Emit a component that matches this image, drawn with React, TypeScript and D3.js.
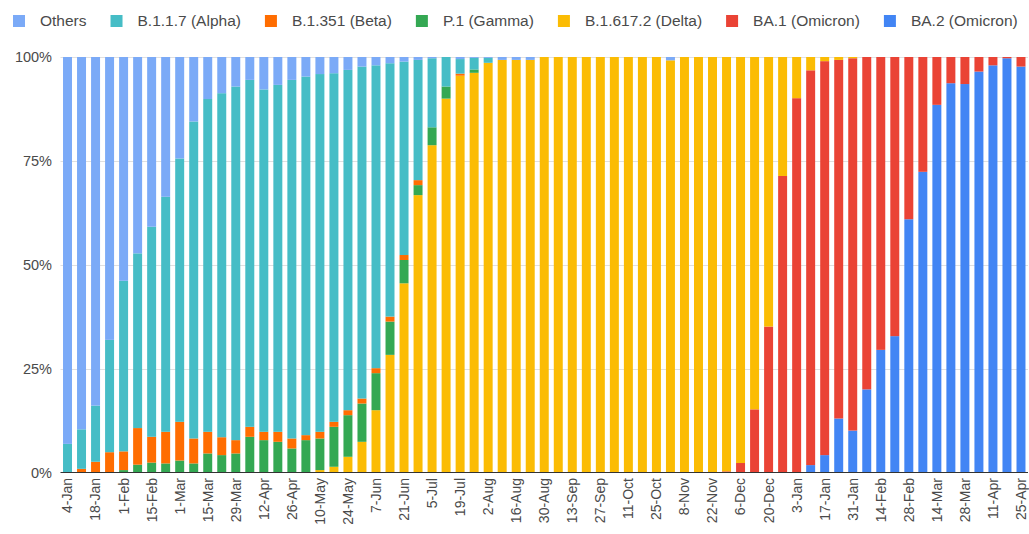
import React, { useEffect, useRef } from "react";
import * as d3 from "d3";

const weeks: string[] = [
  "4-Jan", "11-Jan", "18-Jan", "25-Jan", "1-Feb", "8-Feb", "15-Feb", "22-Feb",
  "1-Mar", "8-Mar", "15-Mar", "22-Mar", "29-Mar", "5-Apr", "12-Apr", "19-Apr",
  "26-Apr", "3-May", "10-May", "17-May", "24-May", "31-May", "7-Jun", "14-Jun",
  "21-Jun", "28-Jun", "5-Jul", "12-Jul", "19-Jul", "26-Jul", "2-Aug", "9-Aug",
  "16-Aug", "23-Aug", "30-Aug", "6-Sep", "13-Sep", "20-Sep", "27-Sep", "4-Oct",
  "11-Oct", "18-Oct", "25-Oct", "1-Nov", "8-Nov", "15-Nov", "22-Nov", "29-Nov",
  "6-Dec", "13-Dec", "20-Dec", "27-Dec", "3-Jan", "10-Jan", "17-Jan", "24-Jan",
  "31-Jan", "7-Feb", "14-Feb", "21-Feb", "28-Feb", "7-Mar", "14-Mar", "21-Mar",
  "28-Mar", "4-Apr", "11-Apr", "18-Apr", "25-Apr",
];

// shares in percent per week
const others: number[] = [
  93, 89.5, 83.8, 68, 53.8, 47.2, 40.8, 33.6, 24.4, 15.5, 10.1, 8.7, 7.1, 5.5, 7.8, 6.7,
  5.5, 4.7, 4.1, 3.9, 3.1, 2.3, 2, 1.5, 1.1, 0.7, 0.3, 0, 0.5, 0.2, 0.2, 0.7,
  0.7, 0.7, 0, 0, 0, 0, 0, 0, 0, 0, 0, 0.8, 0, 0, 0, 0,
  0, 0, 0, 0, 0, 0, 0, 0, 0, 0, 0, 0, 0, 0, 0, 0,
  0, 0, 0, 0, 0,
];
const alpha: number[] = [
  7, 9.5, 13.5, 27, 41, 42, 50.5, 56.5, 63.3, 76.2, 80, 82.7, 85, 83.4, 82.3, 83.4,
  86.2, 86.2, 86, 83.8, 81.8, 79.8, 72.8, 60.9, 46.5, 28.9, 16.6, 7.1, 3.5, 2.8, 1.2, 0,
  0, 0, 0, 0, 0, 0, 0, 0, 0, 0, 0, 0, 0, 0, 0, 0,
  0, 0, 0, 0, 0, 0, 0, 0, 0, 0, 0, 0, 0, 0, 0, 0,
  0, 0, 0, 0, 0,
];
const beta: number[] = [
  0, 1, 2.7, 5, 4.5, 8.8, 6.2, 7.6, 9.3, 6, 5.2, 4.3, 3.2, 2.4, 2, 2.4,
  2.4, 1.2, 1.6, 1.2, 1.2, 1.2, 1.2, 1.2, 1.2, 1.2, 0, 0, 0.5, 0, 0, 0,
  0, 0, 0, 0, 0, 0, 0, 0, 0, 0, 0, 0, 0, 0, 0, 0,
  0, 0, 0, 0, 0, 0, 0, 0, 0, 0, 0, 0, 0, 0, 0, 0,
  0, 0, 0, 0, 0,
];
const gamma: number[] = [
  0, 0, 0, 0, 0.7, 2, 2.5, 2.3, 3, 2.3, 4.7, 4.3, 4.7, 8.7, 7.9, 7.5,
  5.9, 7.9, 7.6, 9.6, 10, 9.2, 8.9, 8, 5.6, 2.4, 4.3, 2.9, 0, 0.8, 0, 0,
  0, 0, 0, 0, 0, 0, 0, 0, 0, 0, 0, 0, 0, 0, 0, 0,
  0, 0, 0, 0, 0, 0, 0, 0, 0, 0, 0, 0, 0, 0, 0, 0,
  0, 0, 0, 0, 0,
];
const delta: number[] = [
  0, 0, 0, 0, 0, 0, 0, 0, 0, 0, 0, 0, 0, 0, 0, 0,
  0, 0, 0.7, 1.5, 3.9, 7.5, 15.1, 28.4, 45.6, 66.8, 78.8, 90, 95.5, 96.2, 98.6, 99.3,
  99.3, 99.3, 100, 100, 100, 100, 100, 100, 100, 100, 100, 99.2, 100, 100, 100, 99.6,
  97.6, 84.7, 64.8, 28.6, 9.9, 3.2, 1, 0.7, 0.3, 0, 0, 0, 0, 0, 0, 0,
  0, 0, 0, 0, 0,
];
const ba1: number[] = [
  0, 0, 0, 0, 0, 0, 0, 0, 0, 0, 0, 0, 0, 0, 0, 0,
  0, 0, 0, 0, 0, 0, 0, 0, 0, 0, 0, 0, 0, 0, 0, 0,
  0, 0, 0, 0, 0, 0, 0, 0, 0, 0, 0, 0, 0, 0, 0, 0.4,
  2.4, 15.3, 35.2, 71.4, 90.1, 94.9, 94.7, 86.2, 89.5, 79.9, 70.4, 67.1, 39, 27.6, 11.5, 6.3,
  6.5, 3.5, 2, 0.3, 2.3,
];
const ba2: number[] = [
  0, 0, 0, 0, 0, 0, 0, 0, 0, 0, 0, 0, 0, 0, 0, 0,
  0, 0, 0, 0, 0, 0, 0, 0, 0, 0, 0, 0, 0, 0, 0, 0,
  0, 0, 0, 0, 0, 0, 0, 0, 0, 0, 0, 0, 0, 0, 0, 0,
  0, 0, 0, 0, 0, 1.9, 4.3, 13.1, 10.2, 20.1, 29.6, 32.9, 61, 72.4, 88.5, 93.7,
  93.5, 96.5, 98, 99.7, 97.7,
];

const seriesNames: string[] = [
  "Others", "B.1.1.7 (Alpha)", "B.1.351 (Beta)", "P.1 (Gamma)",
  "B.1.617.2 (Delta)", "BA.1 (Omicron)", "BA.2 (Omicron)",
];
const seriesValues: number[][] = [others, alpha, beta, gamma, delta, ba1, ba2];
const seriesColors: string[] = [
  "#7BAAF7", "#46BDC6", "#FF6D01", "#34A853", "#FBBC04", "#EA4335", "#4285F4",
];
const yTicks: number[] = [0, 0.25, 0.5, 0.75, 1];

const W = 1029;
const H = 534;
const FONT = "'Liberation Sans', Arial, Helvetica, sans-serif";

export default function App() {
  const ref = useRef<SVGSVGElement | null>(null);

  useEffect(() => {
    const svg = d3.select(ref.current);
    svg.selectAll("*").remove();

    const left = 60.5, right = 1028, top = 57, bottom = 473;

    const rows = weeks.map((w, i) => {
      const r: any = { week: w };
      seriesNames.forEach((n, k) => (r[n] = seriesValues[k][i]));
      return r;
    });

    // stack bottom-up in reverse legend order
    const keys = seriesNames.slice().reverse();
    const stacked = d3.stack<any>().keys(keys).offset(d3.stackOffsetExpand)(rows);

    const x = d3.scaleBand<string>().domain(weeks).range([left, right])
      .paddingInner(0.36).paddingOuter(0.18);
    const y = d3.scaleLinear().domain([0, 1]).range([bottom, top]);

    // gridlines
    const grid = svg.append("g");
    yTicks.filter((t) => t > 0).forEach((t) => {
      grid.append("line")
        .attr("x1", left).attr("x2", right)
        .attr("y1", Math.round(y(t)) + 0.5).attr("y2", Math.round(y(t)) + 0.5)
        .attr("stroke", "#e0e0e0").attr("stroke-width", 1);
    });

    // bars
    const color = d3.scaleOrdinal<string, string>().domain(seriesNames).range(seriesColors);
    svg.append("g").selectAll("g").data(stacked).join("g")
      .attr("fill", (d) => color(d.key))
      .selectAll("rect").data((d) => d).join("rect")
      .attr("x", (d) => x(d.data.week)!)
      .attr("width", x.bandwidth())
      .attr("y", (d) => y(d[1]))
      .attr("height", (d) => Math.max(0, y(d[0]) - y(d[1])));

    // baseline
    svg.append("line")
      .attr("x1", left).attr("x2", right)
      .attr("y1", bottom - 0.5).attr("y2", bottom - 0.5)
      .attr("stroke", "#333").attr("stroke-width", 1.2);

    // y labels
    svg.append("g").selectAll("text").data(yTicks).join("text")
      .attr("x", 52).attr("y", (d) => y(d)).attr("dy", "0.35em")
      .attr("text-anchor", "end")
      .attr("font-family", FONT).attr("font-size", 14.5).attr("fill", "#4a4a4a")
      .text((d) => d3.format(".0%")(d));

    // x labels: every second week
    svg.append("g").selectAll("text").data(weeks.filter((_, i) => i % 2 === 0)).join("text")
      .attr("transform", (d) => `translate(${x(d)! + x.bandwidth() / 2},${bottom + 5}) rotate(-90)`)
      .attr("dy", "0.35em")
      .attr("text-anchor", "end")
      .attr("font-family", FONT).attr("font-size", 14).attr("fill", "#4a4a4a")
      .text((d) => d);

    // legend
    const lg = svg.append("g");
    let cx = 13;
    seriesNames.forEach((n, k) => {
      lg.append("rect").attr("x", cx).attr("y", 15).attr("width", 12).attr("height", 12)
        .attr("fill", seriesColors[k]);
      const t = lg.append("text").attr("x", cx + 27).attr("y", 21).attr("dy", "0.35em")
        .attr("font-family", FONT).attr("font-size", 15.5).attr("fill", "#4a4a4a").text(n);
      const tw = (t.node() as SVGTextElement).getComputedTextLength();
      cx = cx + 27 + tw + 24;
    });
  }, []);

  return (
    <svg
      ref={ref}
      width={W}
      height={H}
      style={{ position: "absolute", left: 0, top: 0, background: "#fff" }}
    />
  );
}
